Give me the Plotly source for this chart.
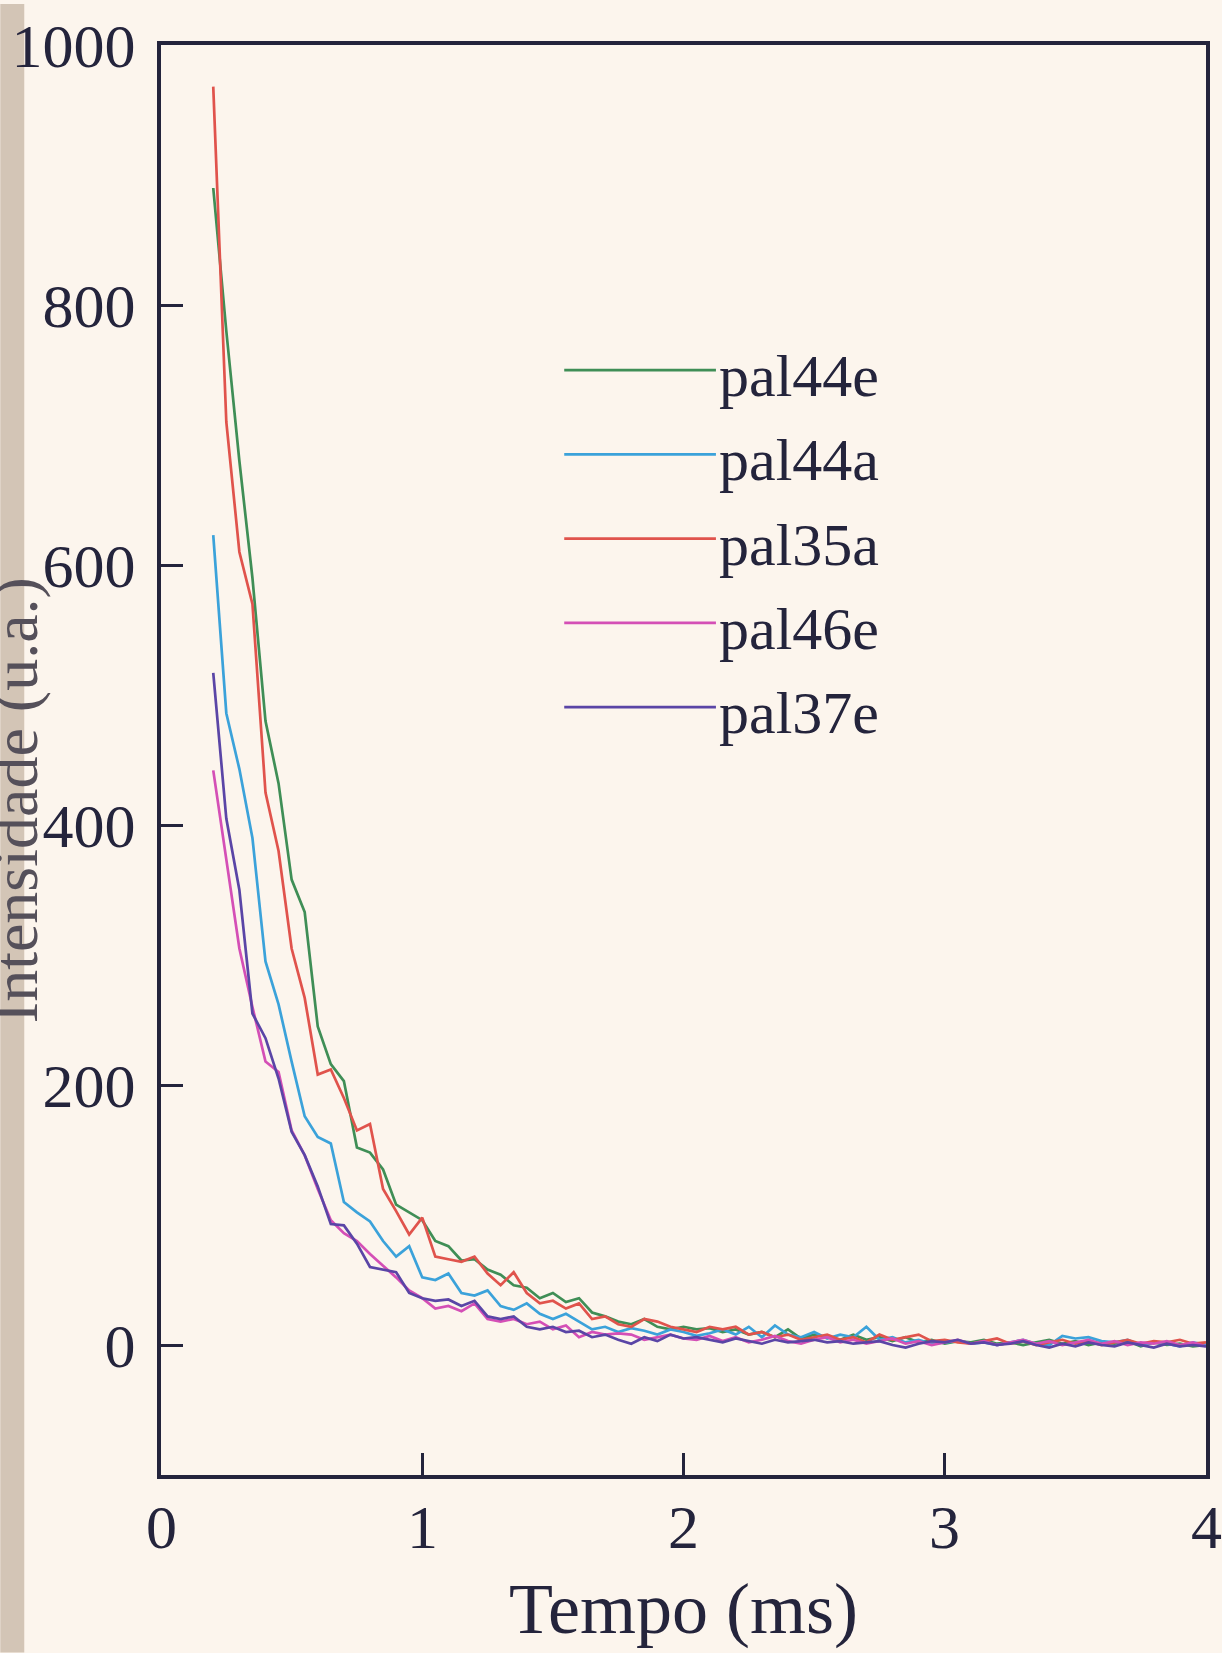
import plotly.graph_objects as go

# ---------------- data ----------------
TEMPO_MS = [0.20, 0.25, 0.30, 0.35, 0.40, 0.45, 0.50, 0.55, 0.60, 0.65,
            0.70, 0.75, 0.80, 0.85, 0.90, 0.95, 1.00, 1.05, 1.10, 1.15,
            1.20, 1.25, 1.30, 1.35, 1.40, 1.45, 1.50, 1.55, 1.60, 1.65,
            1.70, 1.75, 1.80, 1.85, 1.90, 1.95, 2.00, 2.05, 2.10, 2.15,
            2.20, 2.25, 2.30, 2.35, 2.40, 2.45, 2.50, 2.55, 2.60, 2.65,
            2.70, 2.75, 2.80, 2.85, 2.90, 2.95, 3.00, 3.05, 3.10, 3.15,
            3.20, 3.25, 3.30, 3.35, 3.40, 3.45, 3.50, 3.55, 3.60, 3.65,
            3.70, 3.75, 3.80, 3.85, 3.90, 3.95, 4.00]

pal44e = [890, 780, 680, 590, 480, 432, 358, 333, 245, 216,
          203, 152, 148, 135, 108, 102, 96, 80, 76, 65,
          66, 58, 54, 46, 44, 36, 40, 33, 36, 25,
          22, 18, 16, 20, 14, 12, 14, 12, 13, 10,
          12, 8, 10, 6, 12, 5, 8, 6, 4, 8,
          4, 6, 3, 6, 2, 4, 1, 3, 2, 4,
          1, 2, 0, 2, 4, 1, 3, 0, 2, 1,
          3, -1, 2, 0, 1, -1, 0]

pal44a = [623, 486, 443, 390, 295, 262, 218, 176, 160, 155,
          110, 102, 95, 80, 68, 76, 52, 50, 55, 40,
          38, 42, 30, 27, 32, 24, 20, 24, 18, 12,
          14, 10, 13, 11, 8, 12, 10, 7, 9, 12,
          8, 14, 6, 15, 8, 6, 10, 5, 8, 6,
          14, 4, 6, 2, 4, 1, 2, 3, 1, 2,
          0, 2, 4, 1, 0, 7, 5, 6, 3, 2,
          4, 0, 2, 1, -1, 2, 0]

pal35a = [968, 710, 610, 570, 425, 380, 305, 267, 208, 212,
          190, 165, 170, 120, 103, 85, 98, 68, 66, 64,
          68, 55, 46, 56, 40, 32, 34, 28, 32, 20,
          22, 16, 14, 20, 18, 14, 12, 10, 14, 12,
          14, 8, 10, 6, 8, 4, 6, 8, 4, 6,
          2, 8, 4, 6, 8, 3, 4, 2, 1, 3,
          5, 1, 3, 0, 2, 4, 1, 3, 0, 2,
          4, 1, 3, 2, 4, 1, 2]

pal46e = [442, 375, 305, 260, 218, 210, 165, 146, 120, 96,
          86, 80, 70, 61, 52, 42, 36, 28, 30, 26,
          32, 20, 18, 20, 16, 18, 12, 15, 6, 10,
          8, 9, 8, 4, 6, 8, 5, 4, 7, 3,
          6, 2, 4, 7, 3, 1, 4, 6, 2, 4,
          1, 3, 5, 1, 3, 0, 2, 4, 1, 3,
          0, 2, 4, 1, 3, 0, 2, 4, 1, 3,
          0, 2, 1, 3, 0, 2, -1]

pal37e = [517, 405, 350, 255, 236, 205, 164, 146, 122, 93,
          92, 78, 60, 58, 56, 40, 36, 34, 35, 30,
          34, 22, 20, 22, 14, 12, 14, 10, 11, 6,
          8, 4, 1, 6, 3, 8, 5, 6, 4, 2,
          5, 3, 1, 4, 2, 3, 4, 2, 3, 1,
          2, 3, 0, -2, 1, 3, 2, 4, 1, 2,
          0, 1, 3, 0, -2, 1, -1, 2, 0, -1,
          2, 0, -2, 1, -1, 0, -1]

SERIES_NAMES = ["pal44e", "pal44a", "pal35a", "pal46e", "pal37e"]
SERIES_VALUES = [pal44e, pal44a, pal35a, pal46e, pal37e]
SERIES_COLORS = ["#3f8e56", "#3ba2da", "#e0534c", "#d44fb6", "#5a45a6"]

X_TICKS = [0, 1, 2, 3, 4]
X_TICK_LABELS = ["0", "1", "2", "3", "4"]
Y_TICKS = [0, 200, 400, 600, 800, 1000]
Y_TICK_LABELS = ["0", "200", "400", "600", "800", "1000"]
X_TITLE = "Tempo (ms)"
Y_TITLE = "Intensidade (u.a.)"

# ---------------- figure ----------------
W, H = 1222, 1653
ML, MR, MT, MB = 161, 14, 41, 178
PW, PH = W - ML - MR, H - MT - MB

def px_x(px):
    return (px - ML) / PW

def px_y(py):
    return (H - MB - py) / PH

BG = "#fcf5ed"
INK = "#24243c"
FONT = "Liberation Serif"

fig = go.Figure()
for name, vals, col in zip(SERIES_NAMES, SERIES_VALUES, SERIES_COLORS):
    fig.add_trace(go.Scatter(x=TEMPO_MS, y=vals, mode="lines", name=name,
                             line=dict(color=col, width=2.7), showlegend=False,
                             hoverinfo="skip"))

shapes = []
annotations = []

# scanned page edge on the left
shapes.append(dict(type="rect", xref="paper", yref="paper",
                   x0=px_x(0), x1=px_x(24), y0=px_y(H), y1=px_y(0),
                   fillcolor="#d3c5b6", line=dict(width=0), layer="below"))

# manual legend (long line samples)
leg_x0, leg_x1 = 565, 717
leg_y0, leg_dy = 367, 84.5
for i, (name, col) in enumerate(zip(SERIES_NAMES, SERIES_COLORS)):
    yy = leg_y0 + i * leg_dy
    shapes.append(dict(type="line", xref="paper", yref="paper",
                       x0=px_x(leg_x0), x1=px_x(leg_x1), y0=px_y(yy), y1=px_y(yy),
                       line=dict(color=col, width=2.7)))
    annotations.append(dict(text=name, xref="paper", yref="paper",
                            x=px_x(leg_x1 + 1), y=px_y(yy + 6), xanchor="left", yanchor="middle",
                            showarrow=False, font=dict(family=FONT, size=60, color=INK)))

# x tick labels placed close under the frame
for v, lab in zip(X_TICKS, X_TICK_LABELS):
    annotations.append(dict(text=lab, xref="x", yref="paper", x=v, y=px_y(1527),
                            xanchor="center", yanchor="middle", showarrow=False,
                            font=dict(family=FONT, size=62, color=INK)))

annotations.append(dict(text=X_TITLE, xref="paper", yref="paper",
                        x=px_x(685), y=px_y(1609), xanchor="center", yanchor="middle",
                        showarrow=False, font=dict(family=FONT, size=72, color=INK)))
annotations.append(dict(text=Y_TITLE, xref="paper", yref="paper", textangle=-90,
                        x=px_x(16), y=px_y(798), xanchor="center", yanchor="middle",
                        showarrow=False, font=dict(family=FONT, size=64, color="#55505a")))

axis_common = dict(showline=True, linecolor=INK, linewidth=4, mirror=True,
                   showgrid=False, zeroline=False, ticks="inside", ticklen=22,
                   tickwidth=3, tickcolor=INK,
                   tickfont=dict(family=FONT, size=62, color=INK))

fig.update_layout(
    width=W, height=H,
    margin=dict(l=ML, r=MR, t=MT, b=MB),
    paper_bgcolor=BG, plot_bgcolor=BG,
    shapes=shapes, annotations=annotations,
    xaxis=dict(range=[0, 4], tickvals=X_TICKS, showticklabels=False, **axis_common),
    yaxis=dict(range=[-100, 1000], tickvals=Y_TICKS, ticktext=Y_TICK_LABELS,
               ticklabelstandoff=9, **axis_common),
)

fig.write_html(
    "out.html",
    config={"displayModeBar": False},
    post_script="document.body.style.margin='0';document.body.style.padding='0';"
                "document.body.style.background='" + BG + "';",
)
